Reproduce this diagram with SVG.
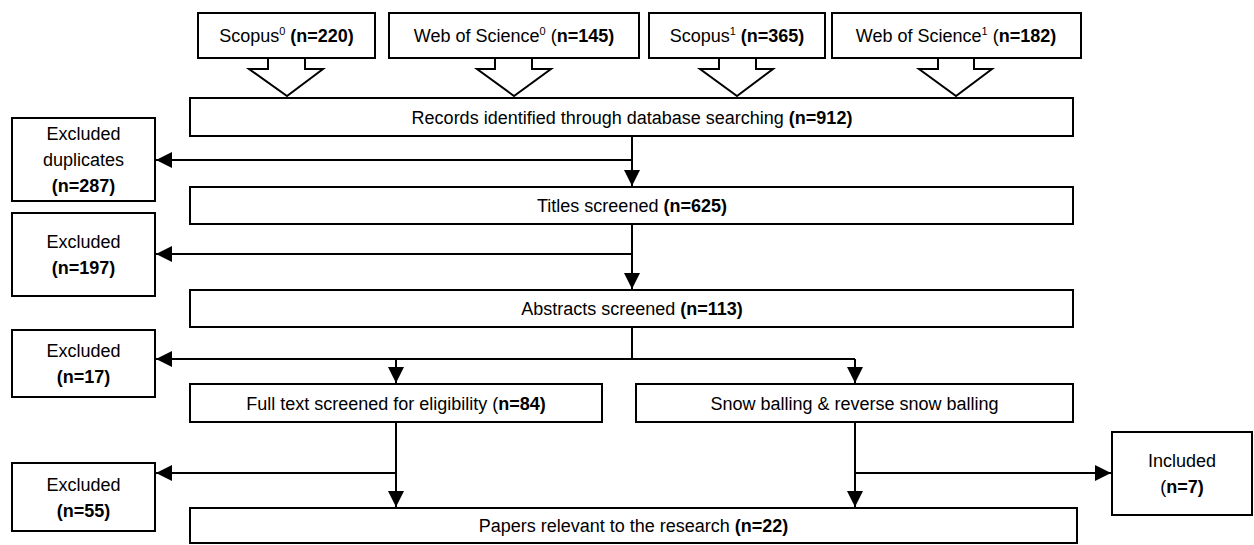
<svg xmlns="http://www.w3.org/2000/svg" width="1254" height="545" viewBox="0 0 1254 545">
<style>
.box{fill:#fff;stroke:#000;stroke-width:2}
.blk{fill:#fff;stroke:#000;stroke-width:2;stroke-linejoin:miter}
.t{font-family:"Liberation Sans",Arial,sans-serif;font-size:18px;fill:#000;text-anchor:middle}
.b{font-weight:bold}
.sup{font-size:11px}
.c{fill:none;stroke:#000;stroke-width:2}
.ca{fill:none;stroke:#000;stroke-width:2;marker-end:url(#ah)}
</style>
<defs>
<marker id="ah" markerUnits="userSpaceOnUse" markerWidth="16" markerHeight="16" refX="16" refY="8" orient="auto">
<path d="M0,0 L16,8 L0,16 z" fill="#000"/>
</marker>
</defs>
<rect width="1254" height="545" fill="#fff"/>
<g id="connectors">
<polyline class="blk" points="268,58 268,69 249,69 287,96 323,69 305,69 305,58"/>
<polyline class="blk" points="495,58 495,69 477,69 514,96 551,69 532,69 532,58"/>
<polyline class="blk" points="719,58 719,69 700,69 737,96 773,69 756,69 756,58"/>
<polyline class="blk" points="938,58 938,69 919,69 956,96 992,69 974,69 974,58"/>
<path class="ca" d="M632,136 L632,186"/>
<path class="ca" d="M632,160 L156,160"/>
<path class="ca" d="M632,224 L632,289"/>
<path class="ca" d="M632,254 L156,254"/>
<path class="c" d="M632,327 L632,359"/>
<path class="ca" d="M855,359 L156,359"/>
<path class="ca" d="M396,359 L396,383"/>
<path class="ca" d="M855,359 L855,383"/>
<path class="ca" d="M396,422 L396,507"/>
<path class="ca" d="M396,473 L156,473"/>
<path class="ca" d="M855,423 L855,507"/>
<path class="ca" d="M855,473 L1111,473"/>
</g>
<g id="scopus0">
<rect class="box" x="198" y="13" width="177" height="45"/>
<text class="t" x="286.5" y="41.5">Scopus<tspan class="sup" dy="-7">0</tspan><tspan dy="7"> </tspan><tspan class="b">(n=220)</tspan></text>
</g>
<g id="wos0">
<rect class="box" x="389" y="13" width="250" height="45"/>
<text class="t" x="514" y="41.5">Web of Science<tspan class="sup" dy="-7">0</tspan><tspan dy="7"> (</tspan><tspan class="b">n=145)</tspan></text>
</g>
<g id="scopus1">
<rect class="box" x="649" y="13" width="176" height="45"/>
<text class="t" x="737" y="41.5">Scopus<tspan class="sup" dy="-7">1</tspan><tspan dy="7"> </tspan><tspan class="b">(n=365)</tspan></text>
</g>
<g id="wos1">
<rect class="box" x="832" y="13" width="249" height="45"/>
<text class="t" x="956" y="41.5">Web of Science<tspan class="sup" dy="-7">1</tspan><tspan dy="7"> (</tspan><tspan class="b">n=182)</tspan></text>
</g>
<g id="records">
<rect class="box" x="190" y="98" width="883" height="38"/>
<text class="t" x="632" y="123.5">Records identified through database searching <tspan class="b">(n=912)</tspan></text>
</g>
<g id="excl-dup">
<rect class="box" x="12" y="118" width="143" height="83"/>
<text class="t" x="83.5" y="140">Excluded</text>
<text class="t" x="83.5" y="166">duplicates</text>
<text class="t b" x="83.5" y="192">(n=287)</text>
</g>
<g id="titles">
<rect class="box" x="190" y="187" width="883" height="37"/>
<text class="t" x="632" y="212">Titles screened <tspan class="b">(n=625)</tspan></text>
</g>
<g id="excl-197">
<rect class="box" x="12" y="213" width="143" height="83"/>
<text class="t" x="83.5" y="248">Excluded</text>
<text class="t b" x="83.5" y="274">(n=197)</text>
</g>
<g id="abstracts">
<rect class="box" x="190" y="290" width="883" height="37"/>
<text class="t" x="632" y="315">Abstracts screened <tspan class="b">(n=113)</tspan></text>
</g>
<g id="excl-17">
<rect class="box" x="12" y="330" width="143" height="67"/>
<text class="t" x="83.5" y="357">Excluded</text>
<text class="t b" x="83.5" y="383">(n=17)</text>
</g>
<g id="fulltext">
<rect class="box" x="190" y="384" width="412" height="38"/>
<text class="t" x="396" y="409.5">Full text screened for eligibility (<tspan class="b">n=84)</tspan></text>
</g>
<g id="snowball">
<rect class="box" x="636" y="384" width="437" height="38"/>
<text class="t" x="854.5" y="409.5">Snow balling &amp; reverse snow balling</text>
</g>
<g id="excl-55">
<rect class="box" x="12" y="463" width="143" height="68"/>
<text class="t" x="83.5" y="490.5">Excluded</text>
<text class="t b" x="83.5" y="516.5">(n=55)</text>
</g>
<g id="included">
<rect class="box" x="1112" y="432" width="140" height="83"/>
<text class="t" x="1182" y="467">Included</text>
<text class="t" x="1182" y="493">(<tspan class="b">n=7)</tspan></text>
</g>
<g id="papers">
<rect class="box" x="190" y="508" width="887" height="35"/>
<text class="t" x="633.5" y="532">Papers relevant to the research <tspan class="b">(n=22)</tspan></text>
</g>
</svg>
